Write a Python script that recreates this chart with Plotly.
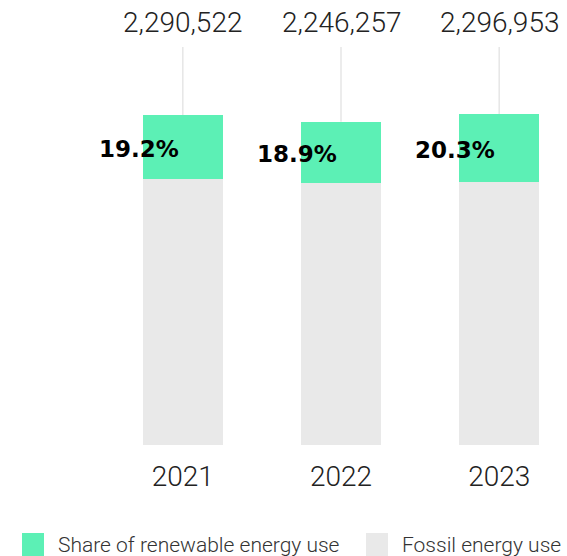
import plotly.graph_objects as go

years = ["2021", "2022", "2023"]
totals = [2290522, 2246257, 2296953]
renewable_share = [19.2, 18.9, 20.3]

GREEN = "#5cf0b5"
GRAY = "#e9e9e9"
LIGHT_FONT = "Roboto"

xs = list(range(len(years)))
renew = [t * s / 100 for t, s in zip(totals, renewable_share)]
fossil = [t - r for t, r in zip(totals, renew)]

W, H = 567, 556
PLOT_BOTTOM = 445  # px from top
Y_MAX = 3.092e6
LABEL_Y = 2.766e6

fig = go.Figure()
fig.add_trace(go.Bar(x=xs, y=fossil, marker=dict(color=GRAY, line=dict(width=0)),
                     name="Fossil energy use", hoverinfo="skip"))
fig.add_trace(go.Bar(x=xs, y=renew, marker=dict(color=GREEN, line=dict(width=0)),
                     name="Share of renewable energy use", hoverinfo="skip"))

BAR_W = 0.506
annotations = []
shapes = []
for i, (t, r, f, s) in enumerate(zip(totals, renew, fossil, renewable_share)):
    # connector line
    shapes.append(dict(type="line", xref="x", yref="y", x0=i, x1=i, y0=t, y1=LABEL_Y,
                       line=dict(color="#e6e6e6", width=1.5), layer="below"))
    annotations.append(dict(x=i, y=LABEL_Y, xref="x", yref="y", text=f"{t:,}",
                            showarrow=False, yanchor="bottom", yshift=6,
                            font=dict(family=LIGHT_FONT, size=28, color="#222", weight=300)))
    annotations.append(dict(x=i - BAR_W / 2 - 0.025, y=f + r / 2, xref="x", yref="y",
                            text=f"<b>{s:.1f}%</b>", showarrow=False, yshift=-2,
                            font=dict(family="DejaVu Sans", size=23, color="#000")))

# legend (manual)
def py(pix):
    return (PLOT_BOTTOM - pix) / PLOT_BOTTOM

legend_items = [("Share of renewable energy use", GREEN, 22), ("Fossil energy use", GRAY, 366)]
for label, col, x0 in legend_items:
    shapes.append(dict(type="rect", xref="paper", yref="paper", x0=x0 / W, x1=(x0 + 22) / W,
                       y0=py(556), y1=py(533), fillcolor=col, line=dict(width=0)))
    annotations.append(dict(x=(x0 + 34) / W, y=py(545), xref="paper", yref="paper",
                            text=label, showarrow=False, xanchor="left", yanchor="middle",
                            font=dict(family=LIGHT_FONT, size=21, color="#333", weight=300)))

fig.update_layout(
    width=W, height=H, barmode="stack", bargap=1 - BAR_W,
    margin=dict(l=0, r=0, t=0, b=H - PLOT_BOTTOM),
    paper_bgcolor="white", plot_bgcolor="white",
    showlegend=False,
    shapes=shapes, annotations=annotations,
    xaxis=dict(range=[-1.1555, 2.4286], tickvals=xs, ticktext=years, showgrid=False,
               zeroline=False, showline=False, ticks="", ticklabelstandoff=12,
               tickfont=dict(family=LIGHT_FONT, size=28, color="#222", weight=300)),
    yaxis=dict(range=[0, Y_MAX], visible=False),
)

fig.write_html("out.html")
